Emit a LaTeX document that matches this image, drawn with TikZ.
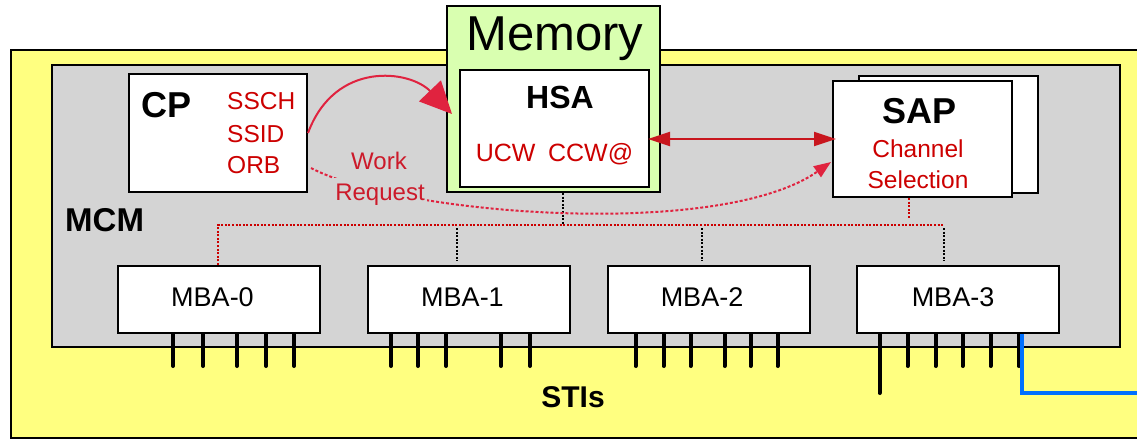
\documentclass[tikz,border=0pt]{standalone}
\usepackage{fontspec}
\setmainfont{Liberation Sans}
\usetikzlibrary{arrows.meta,calc}

\definecolor{stiyellow}{HTML}{FFFF80}
\definecolor{mcmgray}{HTML}{D4D4D4}
\definecolor{memgreen}{HTML}{D9FFB0}
\definecolor{txtred}{HTML}{CC0000}
\definecolor{wrred}{HTML}{CC1A2A}
\definecolor{arrowred}{HTML}{E0233F}
\definecolor{linkred}{HTML}{C8161E}
\definecolor{stiblue}{HTML}{0070FF}

\newcommand\fsz[1]{\fontsize{#1}{#1}\selectfont}

\begin{document}
\begin{tikzpicture}[x=1pt,y=-1pt,
  box/.style={draw=black, line width=2pt, fill=white, inner sep=0pt},
  mbabox/.style={box, minimum width=202pt, minimum height=67pt, text depth=5pt, font=\fsz{27}},
  pin/.style={line width=4pt, line cap=round},
  reddot/.style={draw=txtred, line width=2pt, dash pattern=on 2pt off 1.6pt},
  blackdot/.style={draw=black, line width=2pt, dash pattern=on 2pt off 1.6pt},
  redtxt/.style={text=txtred, inner sep=0pt, font=\fsz{24.5}},
  boldtxt/.style={inner sep=0pt, font=\bfseries\fsz{#1}},
  wrtxt/.style={text=wrred, fill=mcmgray, inner xsep=2pt, font=\fsz{24}},
]
\useasboundingbox (0,0) rectangle (1137,440);
\clip (0,0) rectangle (1137,440);

% STI area and the MCM
\draw[fill=stiyellow, line width=2pt] (11,50) rectangle (1160,438);
\draw[fill=mcmgray, line width=2pt] (52,65) rectangle (1120,347);

% Memory with the HSA
\node[box, fill=memgreen, minimum width=213pt, minimum height=186pt] (mem) at (553.5,99) {};
\node[inner sep=0pt, font=\fsz{49}, anchor=base] at (555,50) {Memory};
\node[box, minimum width=189pt, minimum height=117pt] (hsa) at (554.5,128.5) {};
\node[boldtxt=32, anchor=base] at (560,108) {HSA};
\node[redtxt, font=\fsz{25}, anchor=base] at (554.5,161) {UCW\hspace{0.5em}CCW@};

% CP
\node[box, minimum width=178pt, minimum height=118pt] (cp) at (218,133) {};
\node[boldtxt=36, anchor=base] at (167,117) {CP};
\node[redtxt, anchor=base west] at (227,109) {SSCH};
\node[redtxt, anchor=base west] at (227,142) {SSID};
\node[redtxt, anchor=base west] at (227,173) {ORB};

% SAP (stacked)
\node[box, minimum width=179pt, minimum height=117pt] (sapb) at (948.5,134.5) {};
\node[box, minimum width=179pt, minimum height=116pt] (sap) at (922.5,139) {};
\node[boldtxt=36, anchor=base] at (919,123) {SAP};
\node[redtxt, anchor=base] at (918,157) {Channel};
\node[redtxt, anchor=base] at (918,188) {Selection};

% MCM label and STIs label
\node[boldtxt=33, anchor=base west] at (65,231) {MCM};
\node[boldtxt=30, anchor=base] at (573,407) {STIs};

% MBAs (labels sit a little left of centre)
\node[mbabox] (mba0) at (219,299.5) {\kern-13pt MBA-0};
\node[mbabox] (mba1) at (469,299.5) {\kern-13pt MBA-1};
\node[mbabox] (mba2) at (708.5,299.5) {\kern-13pt MBA-2};
\node[mbabox] (mba3) at (957.5,299.5) {\kern-9pt MBA-3};

% STI pins
\foreach \d in {56,86,120,149,177}
  \draw[pin] ($(mba0.south west)+(\d,0)$) -- ++(0,32);
\foreach \d in {24,51,79,134,163}
  \draw[pin] ($(mba1.south west)+(\d,0)$) -- ++(0,32);
\foreach \d in {29,57,84,118,144,171}
  \draw[pin] ($(mba2.south west)+(\d,0)$) -- ++(0,32);
\foreach \d in {52,80,107,135,163}
  \draw[pin] ($(mba3.south west)+(\d,0)$) -- ++(0,32);
\draw[pin] ($(mba3.south west)+(24,0)$) -- ++(0,59);

% STI cable leaving to the right
\coordinate (stiend) at (1160,393);
\draw[stiblue, line width=4pt] ($(mba3.south west)+(166,0)$) |- (stiend);

% Bus between SAP and the MBAs
\coordinate (busL) at (218,225);
\coordinate (busR) at (943,225);
\draw[reddot] (mba0.north -| busL) -- (busL) -- (busR);
\draw[reddot] ($(sap.south)+(-13.5,0)$) -- ++(0,21);
\draw[blackdot] ($(mem.south)+(9.5,0)$) -- ++(0,32);
\draw[blackdot] ($(mba1.north)+(-12,-37)$) -- ($(mba1.north)+(-12,-4)$);
\draw[blackdot] ($(mba2.north)+(-6.5,-37)$) -- ($(mba2.north)+(-6.5,-4)$);
\draw[blackdot] ($(mba3.north)+(-13.5,-37)$) -- ($(mba3.north)+(-13.5,-4)$);

% CP -> HSA
\draw[arrowred, line width=2pt, -{Triangle[length=32pt,width=30pt]}]
  (cp.east) .. controls (335,60) and (410,70) .. ($(hsa.west)+(-7,-14.5)$);

% Work request CP -> SAP
\draw[arrowred, line width=2pt, dash pattern=on 3pt off 2pt, -{Triangle[length=17pt,width=13pt]}]
  ($(cp.east)+(3,35)$) .. controls (400,215) and (720,240) .. ($(sap.west)+(-1,23)$);
\node[wrtxt, inner ysep=3pt, anchor=base] at (379,169) {Work};
\node[wrtxt, inner ysep=5pt, anchor=base] at (380,200) {Request};

% HSA <-> SAP
\draw[linkred, line width=2pt, {Triangle[length=22pt,width=14pt]}-{Triangle[length=22pt,width=14pt]},
  shorten <=-2pt, shorten >=-4pt] (hsa.east |- sap.west) -- (sap.west);
\end{tikzpicture}
\end{document}
